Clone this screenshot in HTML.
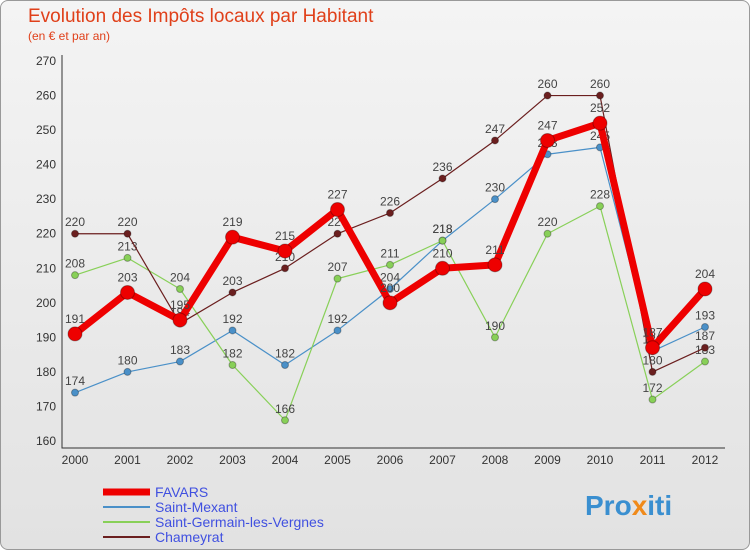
<!DOCTYPE html>
<html><head><meta charset="utf-8"><style>
body{margin:0;background:#fff}
#wrap{position:relative;width:748px;height:548px;border:1px solid #999;border-radius:8px;background:linear-gradient(#f4f4f4,#e2e2e2);overflow:hidden;font-family:"Liberation Sans",sans-serif}
</style></head><body>
<div id="wrap">
<svg id="c" width="750" height="550" style="position:absolute;left:-1px;top:-1px">
<text x="28" y="22" font-size="19" fill="#e0401a">Evolution des Impôts locaux par Habitant</text>
<text x="28" y="40" font-size="12" fill="#e0401a">(en € et par an)</text>
<text x="585" y="515" font-size="28" font-weight="bold" fill="#3a8fd0">Pro<tspan fill="#f08a1a">x</tspan>iti</text>
</svg>
</div>
<script>
const years=["2000","2001","2002","2003","2004","2005","2006","2007","2008","2009","2010","2011","2012"];
const yTicks=[160,170,180,190,200,210,220,230,240,250,260,270];
const favars=[191,203,195,219,215,227,200,210,211,247,252,187,204];
const mexant=[174,180,183,192,182,192,204,218,230,243,245,186,193];
const germain=[208,213,204,182,166,207,211,218,190,220,228,172,183];
const chameyrat=[220,220,194,203,210,220,226,236,247,260,260,180,187];
const NS="http://www.w3.org/2000/svg",svg=document.getElementById('c');
const X=i=>75+i*52.5, Y=v=>441-(v-160)*3.4545;
function mk(t,a,p){const e=document.createElementNS(NS,t);for(const k in a)e.setAttribute(k,a[k]);(p||svg).appendChild(e);return e;}
const grid=mk('g',{});


yTicks.forEach(v=>{
 const t=mk('text',{x:56,y:Y(v)+4,'font-size':12,fill:'#333','text-anchor':'end'});
 t.textContent=v;
 
 
});
years.forEach((y,i)=>{
 const t=mk('text',{x:X(i),y:464,'font-size':12,fill:'#333','text-anchor':'middle'});
 t.textContent=y;
 
 
});
const ax=mk('path',{d:'M62 55V448H725',stroke:'#333',fill:'none'});


function series(vals,color,w,r,name){
 const g=mk('g',{});
 
 
 mk('polyline',{points:vals.map((v,i)=>X(i)+','+Y(v)).join(' '),fill:'none',stroke:color,'stroke-width':w,'stroke-linejoin':'round'},g);
 vals.forEach((v,i)=>{
  const c=mk('circle',{cx:X(i),cy:Y(v),r:r,fill:color,stroke:'rgba(0,0,0,0.3)','stroke-width':1},g);
  
  
  const t=mk('text',{x:X(i),y:Y(v)-r-4,'font-size':12,fill:'#444','text-anchor':'middle'},g);
  t.textContent=v;
  
  
 });
}
series(mexant,'#4a90c8',1.2,3.5,'saint-mexant-series');
series(germain,'#88d058',1.2,3.5,'saint-germain-series');
series(chameyrat,'#6b1f1f',1.2,3.5,'chameyrat-series');
series(favars,'#ee0000',7,7,'favars-series');
const leg=[['FAVARS','#ee0000',7],['Saint-Mexant','#4a90c8',2],['Saint-Germain-les-Vergnes','#88d058',2],['Chameyrat','#6b1f1f',2]];
leg.forEach((d,i)=>{
 const g=mk('g',{});
 
 
 const y=492+i*15;
 mk('line',{x1:103,x2:150,y1:y,y2:y,stroke:d[1],'stroke-width':d[2]},g);
 const t=mk('text',{x:155,y:y+5,'font-size':14,fill:'#4050e0'},g);
 t.textContent=d[0];
});
</script>
</body></html>
